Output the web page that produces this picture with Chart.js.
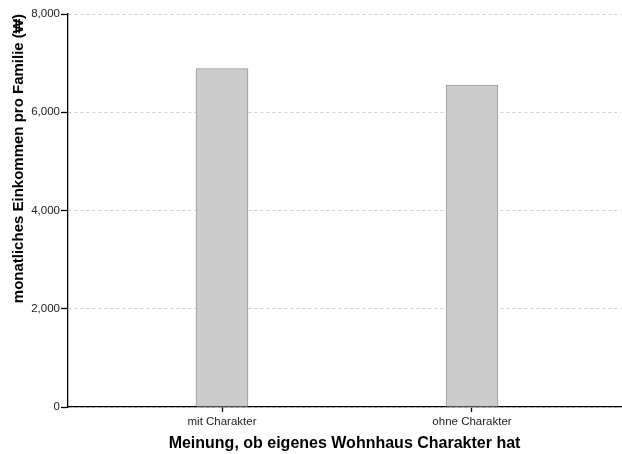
<!DOCTYPE html>
<html>
<head>
<meta charset="utf-8">
<script src="https://cdn.jsdelivr.net/npm/chart.js@4/dist/chart.umd.min.js"></script>
<style>
html,body{margin:0;padding:0;background:#fff;}
#wrap{width:622px;height:454px;position:relative;}
</style>
</head>
<body>
<div id="wrap"><canvas id="c" width="622" height="454"></canvas></div>
<script>
const categories = ['mit Charakter', 'ohne Charakter'];
const values = [6887, 6552];
const yTicks = [0, 2000, 4000, 6000, 8000];
const xTitle = 'Meinung, ob eigenes Wohnhaus Charakter hat';
const yTitle = 'monatliches Einkommen pro Familie (₩)';

const FONT = "'Liberation Sans', Arial, sans-serif";

new Chart(document.getElementById('c'), {
  type: 'bar',
  data: {
    datasets: [{
      data: values.map((v, i) => ({x: i, y: v})),
      backgroundColor: '#cccccc',
      borderColor: '#999999',
      borderWidth: 1,
      barThickness: 52
    }]
  },
  options: {
    responsive: false,
    animation: false,
    layout: {padding: {top: 14, right: 1, left: 0, bottom: 0}},
    plugins: {legend: {display: false}, tooltip: {enabled: false}},
    scales: {
      x: {
        type: 'linear',
        offset: false,
        min: -0.616,
        max: 1.596,
        afterBuildTicks: (s) => { s.ticks = categories.map((c, i) => ({value: i})); },
        afterFit: (s) => { s.height = 47; },
        ticks: {
          callback: (v) => categories[v],
          font: {family: FONT, size: 11.5},
          color: '#222',
          padding: 3,
          maxRotation: 0,
          autoSkip: false
        },
        grid: {offset: false, drawOnChartArea: false, tickLength: 5, tickColor: '#000', tickWidth: 1.3},
        border: {color: '#000', width: 1.3},
        title: {display: true, text: xTitle, font: {family: FONT, size: 16, weight: 'bold'}, color: '#000', padding: {top: 4, bottom: 1}}
      },
      y: {
        min: 0,
        max: 8000,
        afterBuildTicks: (s) => { s.ticks = yTicks.map(v => ({value: v})); },
        afterFit: (s) => { s.width = 68; },
        ticks: {
          callback: (v) => v.toLocaleString('en-US'),
          font: {family: FONT, size: 11.5},
          color: '#222',
          padding: 1
        },
        grid: {color: '#d0d0d0', tickColor: '#000', tickLength: 7, lineWidth: 1, tickWidth: 1.3},
        border: {color: '#000', width: 1.3, dash: [3, 3]},
        title: {display: true, text: yTitle, align: 'end', font: {family: FONT, size: 15, weight: 'bold'}, color: '#000', padding: {top: 10, bottom: 4}}
      }
    }
  }
});
</script>
</body>
</html>
